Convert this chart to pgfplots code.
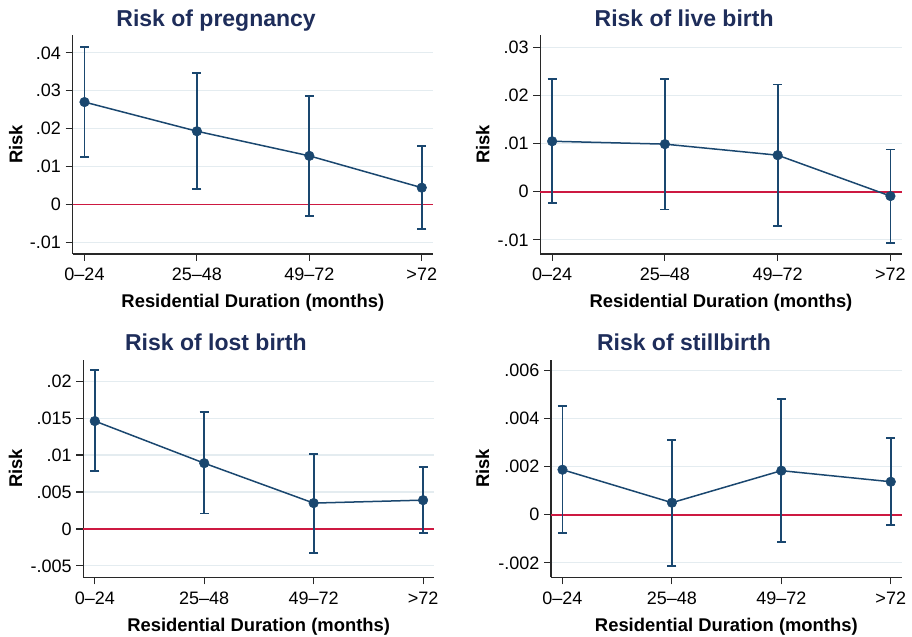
\documentclass[border=0pt]{standalone}
\usepackage{pgfplots}
\pgfplotsset{compat=1.18}
\usepackage{pgfplotstable}
\usepackage{fontspec}
\setmainfont{Liberation Sans}

\definecolor{seriesnavy}{RGB}{26,71,111}
\definecolor{titlenavy}{RGB}{30,45,90}
\definecolor{refred}{RGB}{205,25,65}
\definecolor{gridblue}{RGB}{228,236,240}
\definecolor{axisdark}{RGB}{40,40,40}

% estimate, lower and upper 95% bounds by residential duration
\pgfplotstableread{
x y lo hi
0 0.0270 0.0126 0.0415
1 0.0193 0.0040 0.0346
2 0.0128 -0.0031 0.0287
3 0.0044 -0.0064 0.0153
}\pregnancy
\pgfplotstableread{
x y lo hi
0 0.0105 -0.0024 0.0234
1 0.0099 -0.0037 0.0235
2 0.0076 -0.0071 0.0223
3 -0.0009 -0.0106 0.0088
}\livebirth
\pgfplotstableread{
x y lo hi
0 0.0146 0.0078 0.0215
1 0.0089 0.0021 0.0158
2 0.0035 -0.0032 0.0101
3 0.0039 -0.0005 0.0084
}\lostbirth
\pgfplotstableread{
x y lo hi
0 0.00187 -0.00076 0.00452
1 0.00050 -0.00213 0.00312
2 0.00183 -0.00114 0.00482
3 0.00137 -0.00042 0.00318
}\stillbirth

\pgfplotsset{
  riskpanel/.style={
    scale only axis,
    anchor=south west,
    xmin=-0.105, xmax=3.1,
    axis x line*=bottom, axis y line*=left,
    axis line style={axisdark, line width=1.2bp},
    tick align=outside,
    major tick length=7bp,
    tick style={axisdark, line width=1.1bp},
    xtick={0,1,2,3},
    xticklabels={0–24,25–48,49–72,\textgreater72},
    scaled y ticks=false,
    ymajorgrids=true,
    grid style={gridblue, line width=1.1bp},
    ticklabel style={font=\fontsize{18bp}{20bp}\selectfont, inner sep=0pt},
    xticklabel style={anchor=base, yshift=-20bp},
    yticklabel style={anchor=east, xshift=-4.5bp},
    xlabel={Residential Duration (months)},
    ylabel={Risk},
    label style={font=\fontsize{18.4bp}{20bp}\selectfont\bfseries},
    xlabel style={at={(axis description cs:0.5,0)}, anchor=base, yshift=-54bp},
    title style={font=\fontsize{23bp}{26bp}\selectfont\bfseries, text=titlenavy,
                 anchor=base, yshift=3bp},
    clip=false,
  },
  riskline/.style={
    seriesnavy, line width=1.5bp, mark=*, mark size=4.8bp,
    mark options={fill=seriesnavy, draw=seriesnavy, line width=0.5bp},
    error bars/.cd, y dir=both, y explicit,
      error bar style={seriesnavy, line width=1.8bp},
      error mark options={seriesnavy, line width=1.8bp, mark size=4.5bp, rotate=90},
  },
  zeroline/.style={refred, line width=1.7bp, forget plot},
}

\begin{document}
\begin{tikzpicture}
\useasboundingbox (0bp,0bp) rectangle (912bp,637bp);

% top left
\begin{axis}[riskpanel, at={(72.7bp,383bp)}, width=360.3bp, height=219bp,
  ymin=-0.0131, ymax=0.0447,
  ytick={-0.01,0,0.01,0.02,0.03,0.04},
  yticklabels={-.01,0,.01,.02,.03,.04},
  title={Risk of pregnancy}, title style={at={(0.398,1)}},
  ylabel style={at={(axis description cs:-0.158,0.5)}, anchor=center}]
\addplot[zeroline] coordinates {(-0.105,0) (3.1,0)};
\addplot[riskline] table[x=x, y=y,
  y error plus expr=\thisrow{hi}-\thisrow{y},
  y error minus expr=\thisrow{y}-\thisrow{lo}] {\pregnancy};
\end{axis}

% top right
\begin{axis}[riskpanel, at={(540.3bp,383bp)}, width=361.4bp, height=219bp,
  ymin=-0.01295, ymax=0.0326,
  ytick={-0.01,0,0.01,0.02,0.03},
  yticklabels={-.01,0,.01,.02,.03},
  title={Risk of live birth}, title style={at={(0.398,1)}},
  ylabel style={at={(axis description cs:-0.159,0.5)}, anchor=center}]
\addplot[zeroline] coordinates {(-0.105,0) (3.1,0)};
\addplot[riskline] table[x=x, y=y,
  y error plus expr=\thisrow{hi}-\thisrow{y},
  y error minus expr=\thisrow{y}-\thisrow{lo}] {\livebirth};
\end{axis}

% bottom left
\begin{axis}[riskpanel, at={(83.3bp,59.7bp)}, width=350.7bp, height=217.6bp,
  ymin=-0.00654, ymax=0.0229,
  ytick={-0.005,0,0.005,0.01,0.015,0.02},
  yticklabels={-.005,0,.005,.01,.015,.02},
  title={Risk of lost birth}, title style={at={(0.378,1)}},
  ylabel style={at={(axis description cs:-0.193,0.5)}, anchor=center}]
\addplot[zeroline] coordinates {(-0.105,0) (3.1,0)};
\addplot[riskline] table[x=x, y=y,
  y error plus expr=\thisrow{hi}-\thisrow{y},
  y error minus expr=\thisrow{y}-\thisrow{lo}] {\lostbirth};
\end{axis}

% bottom right
\begin{axis}[riskpanel, at={(551bp,59.7bp)}, width=350.7bp, height=217.6bp,
  ymin=-0.0026, ymax=0.00644,
  ytick={-0.002,0,0.002,0.004,0.006},
  yticklabels={-.002,0,.002,.004,.006},
  title={Risk of stillbirth}, title style={at={(0.379,1)}},
  ylabel style={at={(axis description cs:-0.195,0.5)}, anchor=center}]
\addplot[zeroline] coordinates {(-0.105,0) (3.1,0)};
\addplot[riskline] table[x=x, y=y,
  y error plus expr=\thisrow{hi}-\thisrow{y},
  y error minus expr=\thisrow{y}-\thisrow{lo}] {\stillbirth};
\end{axis}
\end{tikzpicture}
\end{document}
